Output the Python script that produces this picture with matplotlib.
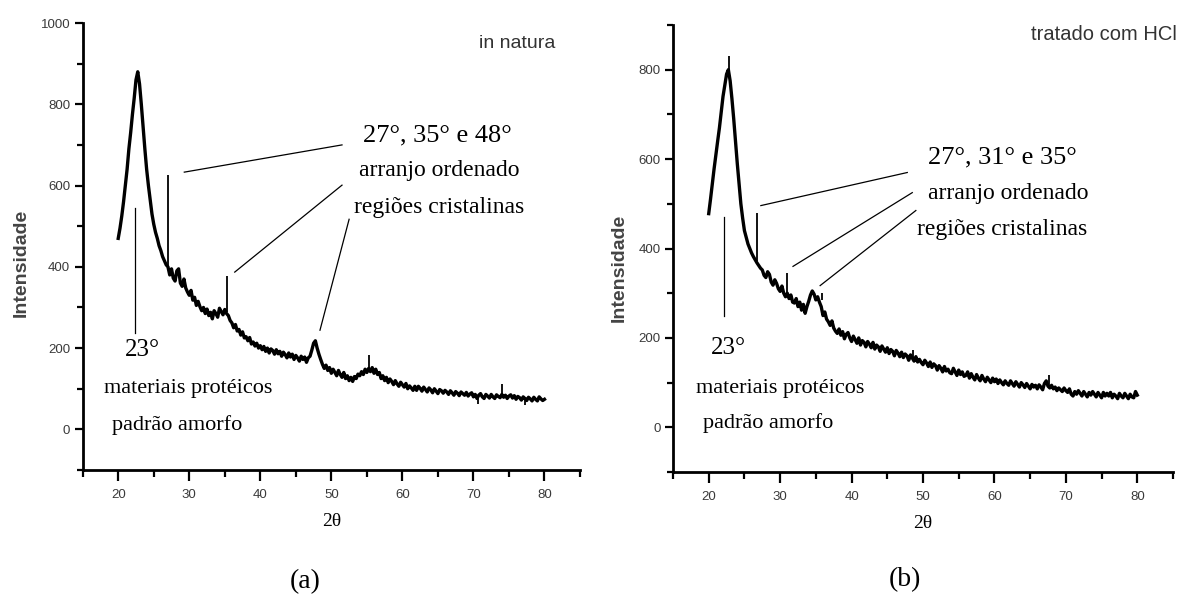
import numpy as np
import matplotlib
matplotlib.use("Agg")
import matplotlib.pyplot as plt
from matplotlib.ticker import MultipleLocator

W, H = 1189, 598

# 2theta sampled every 0.25 degree from 20 to 80 (one row = 2 degrees)
two_theta = np.arange(20, 80.001, 0.25)

# (a) in natura
int_natura = [
    470, 495, 525, 560, 600, 640, 690, 730,
    775, 815, 860, 880, 850, 800, 745, 690,
    640, 600, 565, 530, 505, 485, 470, 452,
    440, 425, 415, 405, 400, 380, 395, 372,
    365, 390, 395, 360, 352, 370, 348, 338,
    330, 342, 318, 325, 305, 315, 302, 292,
    300, 285, 296, 280, 288, 272, 292, 285,
    276, 298, 290, 282, 295, 285, 280, 268,
    262, 250, 258, 242, 246, 232, 240, 225,
    228, 218, 226, 210, 215, 205, 212, 200,
    206, 196, 204, 192, 200, 188, 198, 194,
    185, 196, 186, 192, 180, 190, 184, 176,
    188, 178, 185, 172, 182, 176, 168, 180,
    172, 178, 165, 176, 180, 195, 212, 218,
    200, 185, 172, 160, 150, 158, 145, 152,
    138, 148, 140, 132, 145, 135, 128, 140,
    125, 132, 120, 128, 118, 130, 125, 136,
    132, 142, 135, 148, 140, 150, 142, 152,
    138, 148, 135, 140, 125, 132, 120, 128,
    115, 124, 118, 110, 120, 112, 106, 116,
    110, 104, 113, 100, 107, 102, 96, 106,
    96, 106, 101, 94, 104, 98, 92, 102,
    97, 90, 100, 94, 88, 98, 95, 89,
    96, 92, 86, 95, 90, 84, 93, 89,
    83, 92, 88, 84, 91, 82, 87, 90,
    80, 86, 76, 84, 88, 80, 76, 86,
    82, 77, 86, 80, 76, 85, 81, 78,
    86, 79, 84, 76, 82, 85, 77, 83,
    74, 81, 78, 72, 80, 76, 71, 79,
    75, 70, 79, 74, 70, 80, 75, 71,
    74,
]
# sharp reflections: position, foot, tip
spikes_natura_x = [27.05, 35.3, 55.3, 70.6, 74.05, 77.2]
spikes_natura_lo = [400, 288, 145, 84, 82, 76]
spikes_natura_hi = [625, 378, 182, 62, 112, 60]

# (b) tratado com HCl
int_hcl = [
    478, 510, 545, 578, 610, 640, 670, 705,
    740, 765, 790, 800, 775, 735, 690, 640,
    590, 545, 500, 468, 440, 425, 410, 400,
    390, 382, 375, 368, 362, 356, 352, 340,
    335, 348, 342, 325, 318, 330, 322, 310,
    304, 316, 300, 292, 300, 288, 296, 280,
    278, 288, 270, 280, 262, 275, 255, 270,
    282, 296, 305, 298, 285, 292, 280, 270,
    250, 258, 242, 236, 228, 238, 222, 215,
    210, 220, 206, 214, 198, 208, 212, 200,
    192, 204, 196, 188, 200, 184, 194, 190,
    180, 192, 186, 178, 190, 175, 184, 180,
    170, 182, 175, 168, 178, 165, 174, 170,
    160, 172, 166, 158, 168, 156, 164, 160,
    150, 162, 155, 148, 158, 146, 152, 145,
    140, 150, 144, 136, 146, 134, 142, 138,
    128, 138, 132, 124, 136, 126, 130, 122,
    120, 132, 124, 116, 128, 118, 124, 114,
    116, 124, 110, 120, 112, 106, 118, 110,
    104, 116, 108, 102, 112, 106, 100, 110,
    102, 108, 98, 106, 100, 95, 104, 98,
    94, 104, 98, 92, 102, 96, 90, 100,
    95, 89, 98, 92, 86, 96, 90, 94,
    86, 95, 90, 84, 98, 104, 92, 88,
    94, 86, 90, 82, 88, 84, 80, 88,
    82, 78, 86, 74, 70, 80, 74, 82,
    76, 70, 80, 74, 68, 78, 72, 80,
    74, 68, 78, 72, 66, 78, 70, 76,
    70, 78, 66, 74, 70, 64, 76, 70,
    66, 76, 70, 64, 74, 68, 66, 80,
    72,
]
spikes_hcl_x = [22.8, 26.7, 30.9, 35.8, 48.6, 67.6]
spikes_hcl_lo = [790, 372, 300, 285, 152, 94]
spikes_hcl_hi = [830, 480, 345, 300, 172, 118]

assert len(int_natura) == len(two_theta) and len(int_hcl) == len(two_theta)

# annotation leader lines (data coords)
lines_a = [((22.4, 22.4), (544, 236)),
           ((29.3, 51.5), (633, 700)),
           ((36.4, 51.5), (387, 601)),
           ((48.4, 52.5), (244, 517))]
lines_b = [((22.2, 22.2), (471, 248)),
           ((27.3, 47.8), (496, 570)),
           ((31.8, 48.5), (360, 525)),
           ((35.6, 49.0), (317, 485))]

SANS = "Liberation Sans"
SERIF = "Liberation Serif"
TICKC = "#3a3a3a"


def fpos(x, y):
    return x / W, 1 - y / H


def style_axis(ax, ymax):
    ax.set_xlim(15, 85)
    ax.set_ylim(-100, ymax)
    ax.spines["top"].set_visible(False)
    ax.spines["right"].set_visible(False)
    for s in ("left", "bottom"):
        ax.spines[s].set_linewidth(2.0)
    ax.xaxis.set_minor_locator(MultipleLocator(5))
    ax.yaxis.set_minor_locator(MultipleLocator(100))
    ax.set_xticks([20, 30, 40, 50, 60, 70, 80])
    ax.set_yticks([v for v in range(0, int(ymax) + 1, 200)])
    ax.tick_params(axis="x", which="major", length=8, width=1.6, direction="out",
                   labelsize=9.5, labelcolor=TICKC, pad=6)
    ax.tick_params(axis="x", which="minor", length=5, width=1.6, direction="out")
    ax.tick_params(axis="y", which="major", length=6, width=1.6, direction="out",
                   labelsize=9.5, labelcolor=TICKC, pad=3)
    ax.tick_params(axis="y", which="minor", length=4, width=1.6, direction="out")
    for lab in ax.get_xticklabels() + ax.get_yticklabels():
        lab.set_family(SANS)


fig = plt.figure(figsize=(W / 100, H / 100), dpi=100)
fig.patch.set_facecolor("white")

ax_a = fig.add_axes([82.7 / W, 1 - 470 / H, (580 - 82.7) / W, (470 - 23) / H])
ax_b = fig.add_axes([673 / W, 1 - 472 / H, (1173 - 673) / W, (472 - 25) / H])

ax_a.plot(two_theta, int_natura, color="black", lw=2.4)
ax_b.plot(two_theta, int_hcl, color="black", lw=2.4)
ax_a.vlines(spikes_natura_x, spikes_natura_lo, spikes_natura_hi, color="black", lw=1.3)
ax_b.vlines(spikes_hcl_x, spikes_hcl_lo, spikes_hcl_hi, color="black", lw=1.3)

for (lx, ly) in lines_a:
    ax_a.plot(lx, ly, color="black", lw=0.9)
for (lx, ly) in lines_b:
    ax_b.plot(lx, ly, color="black", lw=0.9)

style_axis(ax_a, 1000)
style_axis(ax_b, 900)

for ax in (ax_a, ax_b):
    ax.set_xlabel("2θ", family=SERIF, fontsize=14, labelpad=8)
    ax.set_ylabel("Intensidade", family=SANS, fontsize=14, fontweight="bold",
                  color="#444444")
ax_a.yaxis.set_label_coords(-0.106, 0.463)
ax_b.yaxis.set_label_coords(-0.09, 0.456)


def ftext(x, y, s, size, family=SERIF, ha="center", **kw):
    fx, fy = fpos(x, y)
    fig.text(fx, fy, s, fontsize=size, family=family, ha=ha, va="center", **kw)


ftext(517, 44, "in natura", 14, family=SANS, color="#333333")
ftext(1104, 35, "tratado com HCl", 14.5, family=SANS, color="#333333")

ftext(437, 135, "27°, 35° e 48°", 19)
ftext(439, 171, "arranjo ordenado", 17)
ftext(439, 208, "regiões cristalinas", 17)
ftext(142, 350, "23°", 18)
ftext(188, 388, "materiais protéicos", 16)
ftext(177, 425, "padrão amorfo", 16)

ftext(1002, 157, "27°, 31° e 35°", 19)
ftext(1008, 193, "arranjo ordenado", 17)
ftext(1002, 230, "regiões cristalinas", 17)
ftext(728, 348, "23°", 18)
ftext(780, 388, "materiais protéicos", 16)
ftext(768, 423, "padrão amorfo", 16)

ftext(305, 582, "(a)", 20)
ftext(905, 580, "(b)", 20)

fig.savefig("out.png", dpi=100)
